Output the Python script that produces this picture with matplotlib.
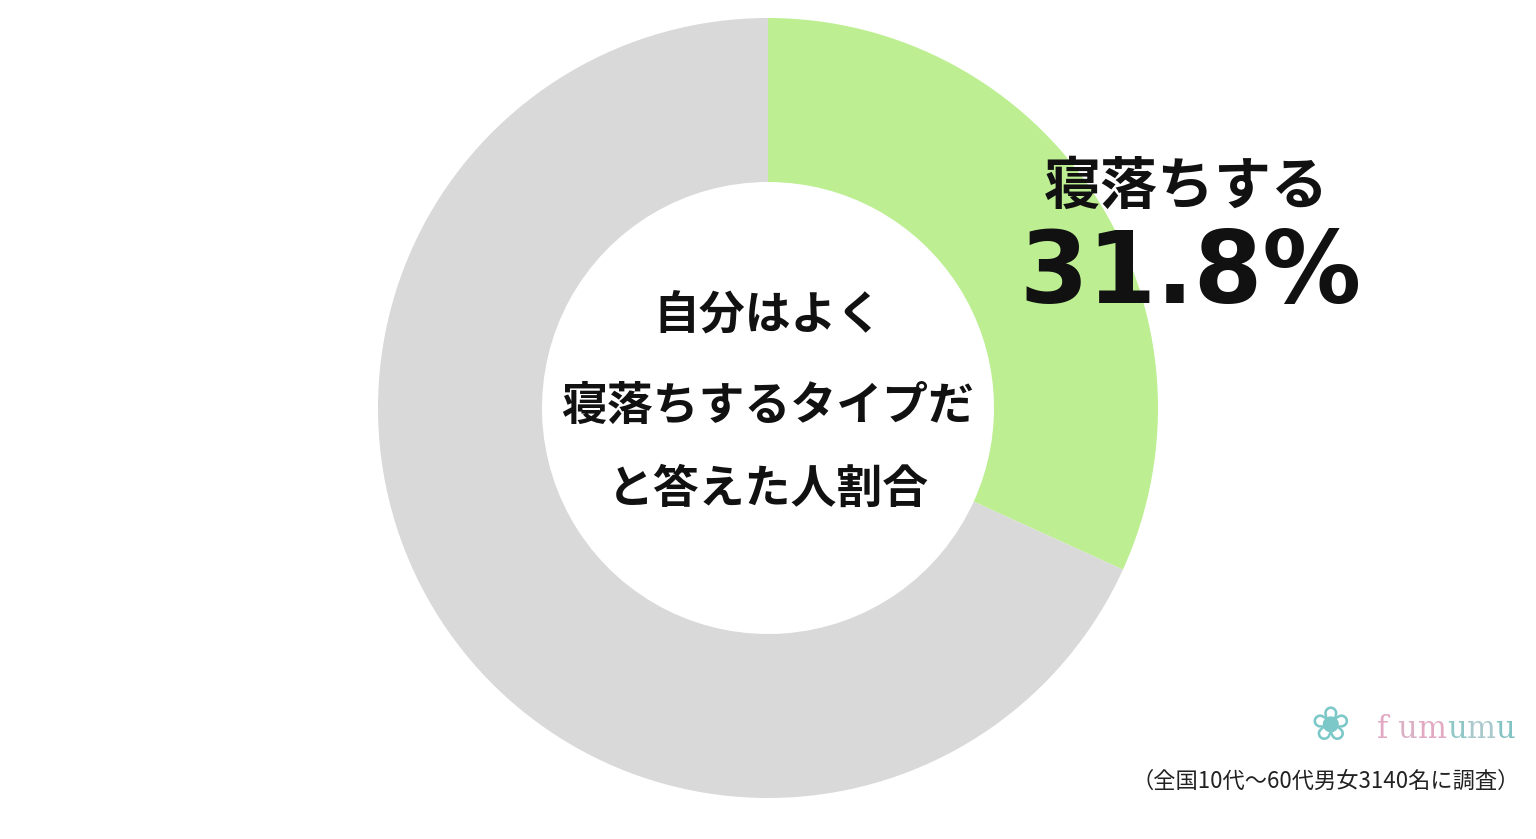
import matplotlib
matplotlib.use("Agg")
import matplotlib.pyplot as plt

plt.rcParams['font.family'] = ['Noto Sans CJK JP', 'DejaVu Sans']

# data
labels = ["寝落ちする", "その他"]
values = [31.8, 68.2]
colors = ["#bdef92", "#d9d9d9"]
center_lines = ["自分はよく", "寝落ちするタイプだ", "と答えた人割合"]
note = "（全国10代～60代男女3140名に調査）"
logo = "fumumu"
logo_colors = ["#e2a9c2", "#dbb0c4", "#e2a9c2", "#8fc6c6", "#a9c9cc", "#84c3c3"]

W, H = 1536, 839
fig = plt.figure(figsize=(W / 100, H / 100), dpi=100)
ax = fig.add_axes([0, 0, 1, 1])

cx, cy = 768, H - 408
r_out, r_in = 390, 226

ax.pie(values, colors=colors, startangle=90, counterclock=False,
       center=(cx, cy), radius=r_out,
       wedgeprops=dict(width=r_out - r_in, linewidth=0))
ax.set_xlim(0, W)
ax.set_ylim(0, H)
ax.set_aspect("equal")
ax.axis("off")

# centre text
for y, line in zip([316, 407, 490], center_lines):
    ax.text(cx, H - y, line, fontsize=33, fontweight="bold",
            ha="center", va="center", color="#111111")

# slice label
ax.text(1186, H - 187, labels[0], fontsize=41, fontweight="bold",
        ha="center", va="center", color="#111111")
ax.text(1190, H - 275, f"{values[0]}%", fontsize=71, fontweight="bold",
        ha="center", va="center", color="#111111", family=["DejaVu Sans"])

# logo
ax.text(1330, H - 728, "❀", fontsize=34, color="#7cc8c8",
        ha="center", va="center", family=["DejaVu Sans"])
for i, (ch, c) in enumerate(zip(logo, logo_colors)):
    ax.text(1383 + i * 24.5, H - 730, ch, fontsize=22, color=c,
            ha="center", va="center", family=["DejaVu Serif"])

# note
ax.text(1520, H - 781, note, fontsize=16, color="#222222",
        ha="right", va="center")

fig.savefig("out.png", dpi=100, facecolor="white")
